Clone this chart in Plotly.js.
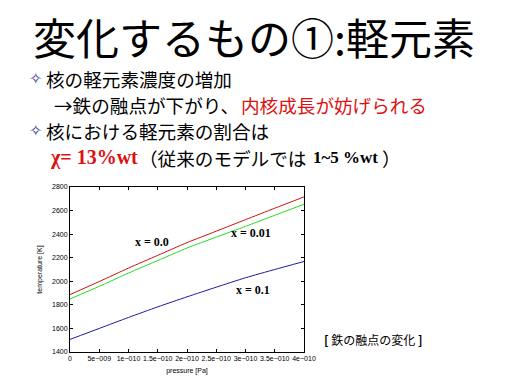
<!DOCTYPE html>
<html><head><meta charset="utf-8">
<script src="https://cdn.plot.ly/plotly-3.0.1.min.js"></script>
<style>html,body{margin:0;padding:0;background:#fff}#c{width:512px;height:384px}</style>
</head><body><div id="c"></div>
<script>
const pressure = [0, 0.5e-10, 1e-10, 1.5e-10, 2e-10, 2.5e-10, 3e-10, 3.5e-10, 4e-10];
const tempX00 = [1887, 1998, 2112, 2220, 2328, 2425, 2523, 2620, 2716];
const tempX001 = [1850, 1957, 2070, 2176, 2282, 2375, 2466, 2560, 2654];
const tempX01 = [1507, 1600, 1693, 1783, 1868, 1950, 2030, 2100, 2168];
const xTickVals = [0, 0.5e-10, 1e-10, 1.5e-10, 2e-10, 2.5e-10, 3e-10, 3.5e-10, 4e-10];
const xTickText = ["0", "5e\u2212009", "1e\u2212010", "1.5e\u2212010", "2e\u2212010", "2.5e\u2212010", "3e\u2212010", "3.5e\u2212010", "4e\u2212010"];
const yTickVals = [1400, 1600, 1800, 2000, 2200, 2400, 2600, 2800];

const W = 512, H = 384;
const px = x => x / W, py = y => 1 - y / H;
const jp = '"Noto Sans CJK JP", sans-serif';
const serif = '"Liberation Serif", serif';

function ann(x, y, text, size, color, family, xanchor) {
  return {xref:'paper', yref:'paper', x:px(x), y:py(y), text:text, showarrow:false, borderpad:0,
    xanchor:xanchor||'left', yanchor:'middle', font:{size:size, color:color||'#000', family:family||jp}};
}

const traces = [
  {x: pressure, y: tempX00, mode:'lines', line:{color:'#cc1111', width:1, shape:'spline', smoothing:0.6}},
  {x: pressure, y: tempX001, mode:'lines', line:{color:'#22dd22', width:1, shape:'spline', smoothing:0.6}},
  {x: pressure, y: tempX01, mode:'lines', line:{color:'#1a1aa0', width:1, shape:'spline', smoothing:0.6}}
];

const B = 18.6;
const layout = {
  width: W, height: H, margin:{l:0,r:0,t:0,b:0}, showlegend:false,
  paper_bgcolor:'#fff', plot_bgcolor:'#fff',
  xaxis:{domain:[px(70), px(304)], range:[0, 4e-10], tickvals:xTickVals, ticktext:xTickText,
    showgrid:false, zeroline:false, showline:true, linecolor:'#000', linewidth:1, mirror:'ticks',
    ticks:'inside', ticklen:3, tickcolor:'#000', tickfont:{size:7, family:'Arial', color:'#000'},
    title:{text:'pressure [Pa]', font:{size:7, family:'Arial', color:'#000'}, standoff:6}},
  yaxis:{domain:[py(352), py(187)], range:[1400, 2800], tickvals:yTickVals,
    showgrid:false, zeroline:false, showline:true, linecolor:'#000', linewidth:1, mirror:'ticks',
    ticks:'inside', ticklen:3, tickcolor:'#000', tickfont:{size:7, family:'Arial', color:'#000'},
    title:{text:'temperature [K]', font:{size:7, family:'Arial', color:'#000'}, standoff:8}},
  annotations: [
    ann(254, 36, '変化するもの①:軽元素', 43, '#000', jp, 'center'),
    ann(28, 79, '✧', 16, '#3a3a9a', 'DejaVu Sans'),
    ann(45, 79, '核の軽元素濃度の増加', B, '#000'),
    ann(53, 104.5, '→鉄の融点が下がり、', B, '#000'),
    ann(240, 104.5, '内核成長が妨げられる', B, '#dd1111'),
    ann(28, 130, '✧', 16, '#3a3a9a', 'DejaVu Sans'),
    ann(45, 130, '核における軽元素の割合は', B, '#000'),
    ann(49, 158, '<b>χ= 13%wt</b>', 20, '#dd1111', serif),
    ann(138, 157, '（従来のモデルでは', B, '#000'),
    ann(312, 158, '<b>1~5 %wt</b>', 17, '#000', serif),
    ann(381, 157, '）', B, '#000'),
    ann(152, 242, '<b>x = 0.0</b>', 12, '#000', serif, 'center'),
    ann(251, 233, '<b>x = 0.01</b>', 12, '#000', serif, 'center'),
    ann(253, 290, '<b>x = 0.1</b>', 12, '#000', serif, 'center'),
    ann(373, 339, '<b>[</b> 鉄の融点の変化 <b>]</b>', 12, '#000', jp, 'center')
  ]
};
Plotly.newPlot('c', traces, layout, {staticPlot:true, displayModeBar:false});
</script></body></html>
